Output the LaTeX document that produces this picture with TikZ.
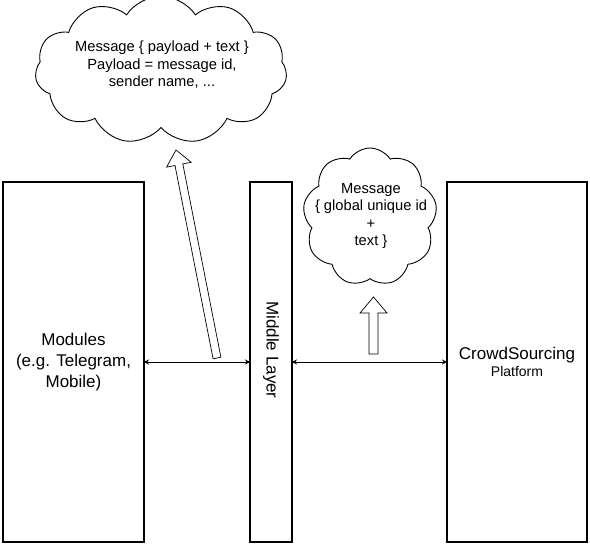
\documentclass[tikz,border=0pt]{standalone}
\usepackage{fontspec}
\setmainfont{Liberation Sans}
\usetikzlibrary{shapes.symbols,arrows.meta}
\tikzset{
  boxstyle/.style={draw, line width=1.1pt, inner sep=0pt},
  cloudstyle/.style={cloud, draw, line width=0.9pt, inner sep=0pt},
  link/.style={line width=0.8pt, {Stealth[length=5pt,width=5pt]}-{Stealth[length=5pt,width=5pt]}},
  hollow/.style={draw, line width=0.7pt, fill=white, line join=miter},
  cloudtext/.style={align=center, font=\fontsize{14.7}{17.5}\selectfont},
  boxtext/.style={align=center, font=\fontsize{17}{21}\selectfont}
}
\begin{document}
\begin{tikzpicture}[x=1pt,y=-1pt]
\useasboundingbox (0,0) rectangle (590,545);
% boxes
\draw[boxstyle] (3,182) rectangle (144,542);
\node[boxtext] (modules) at (73.5,362) {Modules\\(e.g. Telegram,\\Mobile)};
\draw[boxstyle] (250,182) rectangle (292,542);
\node[boxtext, rotate=-90] (middle) at (271,350) {Middle Layer};
\draw[boxstyle] (447,182) rectangle (587,542);
\node[align=center] (crowd) at (517,362) {{\fontsize{17}{19}\selectfont CrowdSourcing}\\[2pt]{\fontsize{14}{17}\selectfont Platform}};
% connector anchors
\coordinate (modE) at (144,362);
\coordinate (midW) at (250,362);
\coordinate (midE) at (292,362);
\coordinate (crowdW) at (447,362);
\draw[link] (modE) -- (midW);
\draw[link] (midE) -- (crowdW);
% clouds
\node[cloudstyle, cloud puffs=11, cloud puff arc=115, aspect=1.9, minimum width=252pt, minimum height=148pt] (cloudA) at (161,70) {};
\node[cloudtext] (msgA) at (162,65) {Message \{ payload + text \}\\Payload = message id,\\sender name, ...};
\node[cloudstyle, cloud puffs=9, cloud puff arc=115, aspect=1.0, minimum width=134pt, minimum height=138pt] (cloudB) at (370,217) {};
\node[cloudtext] (msgB) at (371,216) {Message\\\{ global unique id\\+\\text \}};
% hollow arrows
\draw[hollow] (220.9,357.2) -- (182.8,163.9) -- (191.2,162.3) -- (176,150) -- (166.6,167.1) -- (175.0,165.5) -- (213.1,358.8) -- cycle;
\draw[hollow] (369,354) -- (369,313) -- (360,313) -- (373.5,297) -- (387,313) -- (378,313) -- (378,354) -- cycle;
\end{tikzpicture}
\end{document}
